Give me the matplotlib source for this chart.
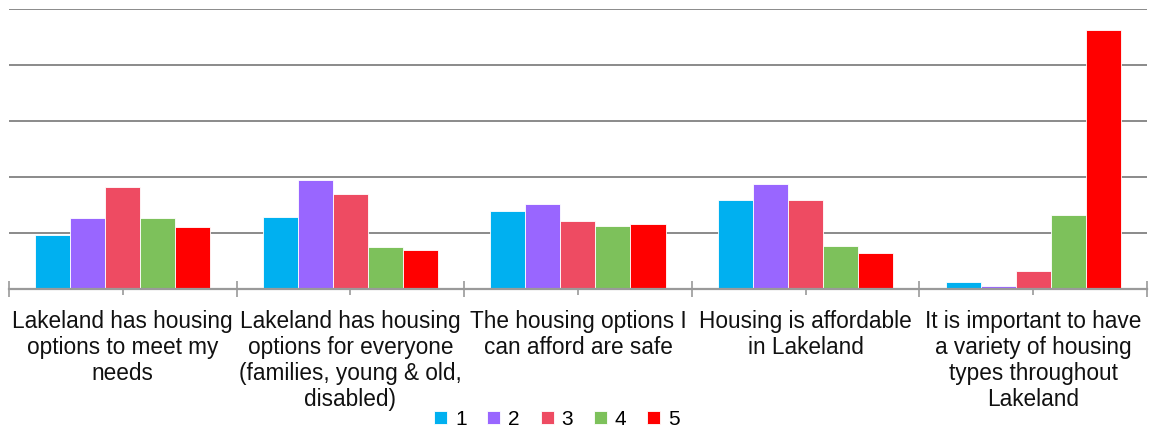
import matplotlib
matplotlib.use("Agg")
import matplotlib.pyplot as plt
import numpy as np

# statements (wrapped as in the source chart)
categories = [
    "Lakeland has housing\noptions to meet my\nneeds",
    "Lakeland has housing\noptions for everyone\n(families, young & old,\ndisabled)",
    "The housing options I\ncan afford are safe",
    "Housing is affordable\nin Lakeland",
    "It is important to have\na variety of housing\ntypes throughout\nLakeland",
]
series_names = ["1", "2", "3", "4", "5"]
s1 = [9.7, 12.9, 13.9, 15.9, 1.3]
s2 = [12.7, 19.5, 15.2, 18.8, 0.5]
s3 = [18.3, 16.9, 12.1, 15.9, 3.3]
s4 = [12.7, 7.5, 11.3, 7.7, 13.2]
s5 = [11.1, 6.9, 11.6, 6.5, 46.2]
colors = ["#00B0F0", "#9966FF", "#EE4B62", "#7DC15B", "#FF0000"]

plt.rcParams['font.family'] = ['Liberation Sans', 'DejaVu Sans']

fig = plt.figure(figsize=(11.51, 4.29), dpi=100)
ax = fig.add_axes([0.0078, 0.326, 0.9887, 0.653])

x = np.arange(len(categories))
w = 1 / 6.5
for i, vals in enumerate([s1, s2, s3, s4, s5]):
    ax.bar(x + (i - 2) * w, vals, width=w, color=colors[i],
           edgecolor="white", linewidth=0.6, label=series_names[i], zorder=3)

ax.set_xlim(-0.5, len(categories) - 0.5)
ax.set_ylim(0, 50)
ax.set_yticks(np.arange(0, 51, 10))
ax.yaxis.grid(True, color="#8a8a8a", linewidth=1.4, zorder=0)
ax.tick_params(axis="y", left=False, labelleft=False)

for side in ["top", "right", "left"]:
    ax.spines[side].set_visible(False)
ax.spines["bottom"].set_color("#9a9a9a")
ax.spines["bottom"].set_linewidth(1.6)
ax.spines["bottom"].set_zorder(4)

ax.set_xticks(x)
ax.set_xticklabels(categories, fontsize=16.3, color="#111111", linespacing=1.17)
ax.set_xticks(np.arange(-0.5, len(categories), 1), minor=True)
ax.tick_params(axis="x", which="major", direction="inout", length=8,
               color="#9a9a9a", width=1.2, pad=11)
ax.tick_params(axis="x", which="minor", direction="inout", length=11,
               color="#9a9a9a", width=1.2)

ax.legend(loc="center", bbox_to_anchor=(0.4815, -0.465), ncol=5,
          frameon=False, fontsize=15, handlelength=0.62, handleheight=0.62,
          handletextpad=0.38, columnspacing=1.0, borderaxespad=0,
          borderpad=0)

fig.savefig("out.png", dpi=100)
